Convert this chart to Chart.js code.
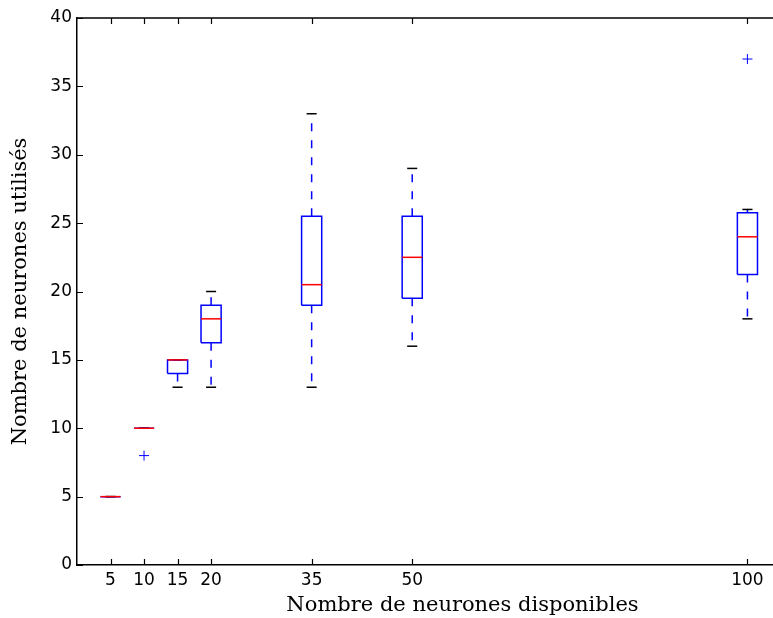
<!DOCTYPE html>
<html>
<head>
<meta charset="utf-8">
<script src="https://cdn.jsdelivr.net/npm/chart.js@4/dist/chart.umd.min.js"></script>
<style>
  html, body { margin: 0; padding: 0; background: #fff; }
  #wrap { width: 773px; height: 618px; overflow: hidden; }
</style>
</head>
<body>
<div id="wrap"><canvas id="chartBoites" width="860" height="618"></canvas></div>
<script>
// valeurs
const positions = [5, 10, 15, 20, 35, 50, 100];
const moustacheBas = [5, 10, 13, 13, 13, 16, 18];
const quartileBas = [5, 10, 14, 16.25, 19, 19.5, 21.25];
const medianes = [5, 10, 15, 18, 20.5, 22.5, 24];
const quartileHaut = [5, 10, 15, 19, 25.5, 25.5, 25.75];
const moustacheHaut = [5, 10, 15, 20, 33, 29, 26];
const aberrantsX = [10, 100];
const aberrantsY = [8, 37];
const ticksY = [0, 5, 10, 15, 20, 25, 30, 35, 40];

const demiBoite = 1.5;
const demiCap = 0.75;

let datasets = [];

positions.forEach((p, i) => {
  // moustaches
  datasets.push({
    data: [{ x: p, y: quartileBas[i] }, { x: p, y: moustacheBas[i] }],
    borderColor: "#0000ff", borderWidth: 1.5, borderDash: [8, 9], order: 5,
  });
  datasets.push({
    data: [{ x: p, y: quartileHaut[i] }, { x: p, y: moustacheHaut[i] }],
    borderColor: "#0000ff", borderWidth: 1.5, borderDash: [8, 9], order: 5,
  });
  // caps
  [moustacheBas[i], moustacheHaut[i]].forEach((v) => {
    datasets.push({
      data: [{ x: p - demiCap, y: v }, { x: p + demiCap, y: v }],
      borderColor: "#000000", borderWidth: 1.5, order: 4,
    });
  });
  // boite
  datasets.push({
    data: [
      { x: p - demiBoite, y: quartileBas[i] },
      { x: p + demiBoite, y: quartileBas[i] },
      { x: p + demiBoite, y: quartileHaut[i] },
      { x: p - demiBoite, y: quartileHaut[i] },
      { x: p - demiBoite, y: quartileBas[i] },
    ],
    borderColor: "#0000ff", borderWidth: 1.5, order: 3,
  });
  // mediane
  datasets.push({
    data: [{ x: p - demiBoite, y: medianes[i] }, { x: p + demiBoite, y: medianes[i] }],
    borderColor: "#ff0000", borderWidth: 1.5, order: 2,
  });
});

datasets = datasets.map((d) => Object.assign({
  type: "line", showLine: true, pointRadius: 0, tension: 0, fill: false,
}, d));

datasets.push({
  type: "scatter",
  data: aberrantsX.map((x, i) => ({ x: x, y: aberrantsY[i] })),
  pointStyle: "cross", pointRadius: 5, borderColor: "#0000ff",
  borderWidth: 1, order: 1,
});

// ticks vers l'interieur + cadre haut/droite
const ticksInterieurs = {
  id: "ticksInterieurs",
  afterDraw(chart) {
    const ctx = chart.ctx;
    const a = chart.chartArea;
    const sx = chart.scales.x, sy = chart.scales.y;
    ctx.save();
    ctx.strokeStyle = "#000";
    ctx.lineWidth = 1.2;
    ctx.beginPath();
    positions.forEach((p) => {
      const px = Math.round(sx.getPixelForValue(p)) + 0.5;
      ctx.moveTo(px, a.bottom); ctx.lineTo(px, a.bottom - 6);
      ctx.moveTo(px, a.top); ctx.lineTo(px, a.top + 6);
    });
    ticksY.forEach((v) => {
      const py = Math.round(sy.getPixelForValue(v)) + 0.5;
      ctx.moveTo(a.left, py); ctx.lineTo(a.left + 6, py);
      ctx.moveTo(a.right, py); ctx.lineTo(a.right - 6, py);
    });
    ctx.stroke();
    ctx.lineWidth = 1.5;
    ctx.beginPath();
    ctx.moveTo(a.left, a.top); ctx.lineTo(a.right, a.top); ctx.lineTo(a.right, a.bottom);
    ctx.stroke();
    ctx.restore();
  },
};

new Chart("chartBoites", {
  data: { datasets: datasets },
  plugins: [ticksInterieurs],
  options: {
    responsive: false,
    animation: false,
    layout: { padding: { top: 18, right: 12, left: 0, bottom: 0 } },
    plugins: { legend: { display: false }, tooltip: { enabled: false } },
    scales: {
      x: {
        type: "linear", min: 0, max: 115,
        afterBuildTicks: (s) => { s.ticks = positions.map((v) => ({ value: v })); },
        afterFit: (s) => { s.height = 53; },
        grid: { display: false, drawTicks: false },
        border: { display: true, color: "#000", width: 1.5 },
        ticks: { color: "#000", padding: 5, maxRotation: 0, autoSkip: false,
                 font: { family: "DejaVu Sans", size: 17 } },
        title: { display: true, text: "Nombre de neurones disponibles", color: "#000",
                 padding: { top: 0, bottom: 0 },
                 font: { family: "DejaVu Serif", size: 21 } },
      },
      y: {
        type: "linear", min: 0, max: 40,
        afterBuildTicks: (s) => { s.ticks = ticksY.map((v) => ({ value: v })); },
        afterFit: (s) => { s.width = 77; },
        grid: { display: false, drawTicks: false },
        border: { display: true, color: "#000", width: 1.5 },
        ticks: { color: "#000", padding: 5,
                 font: { family: "DejaVu Sans", size: 17 } },
        title: { display: true, text: "Nombre de neurones utilisés", color: "#000",
                 padding: { top: 8, bottom: 0 },
                 font: { family: "DejaVu Serif", size: 21 } },
      },
    },
  },
});
</script>
</body>
</html>
